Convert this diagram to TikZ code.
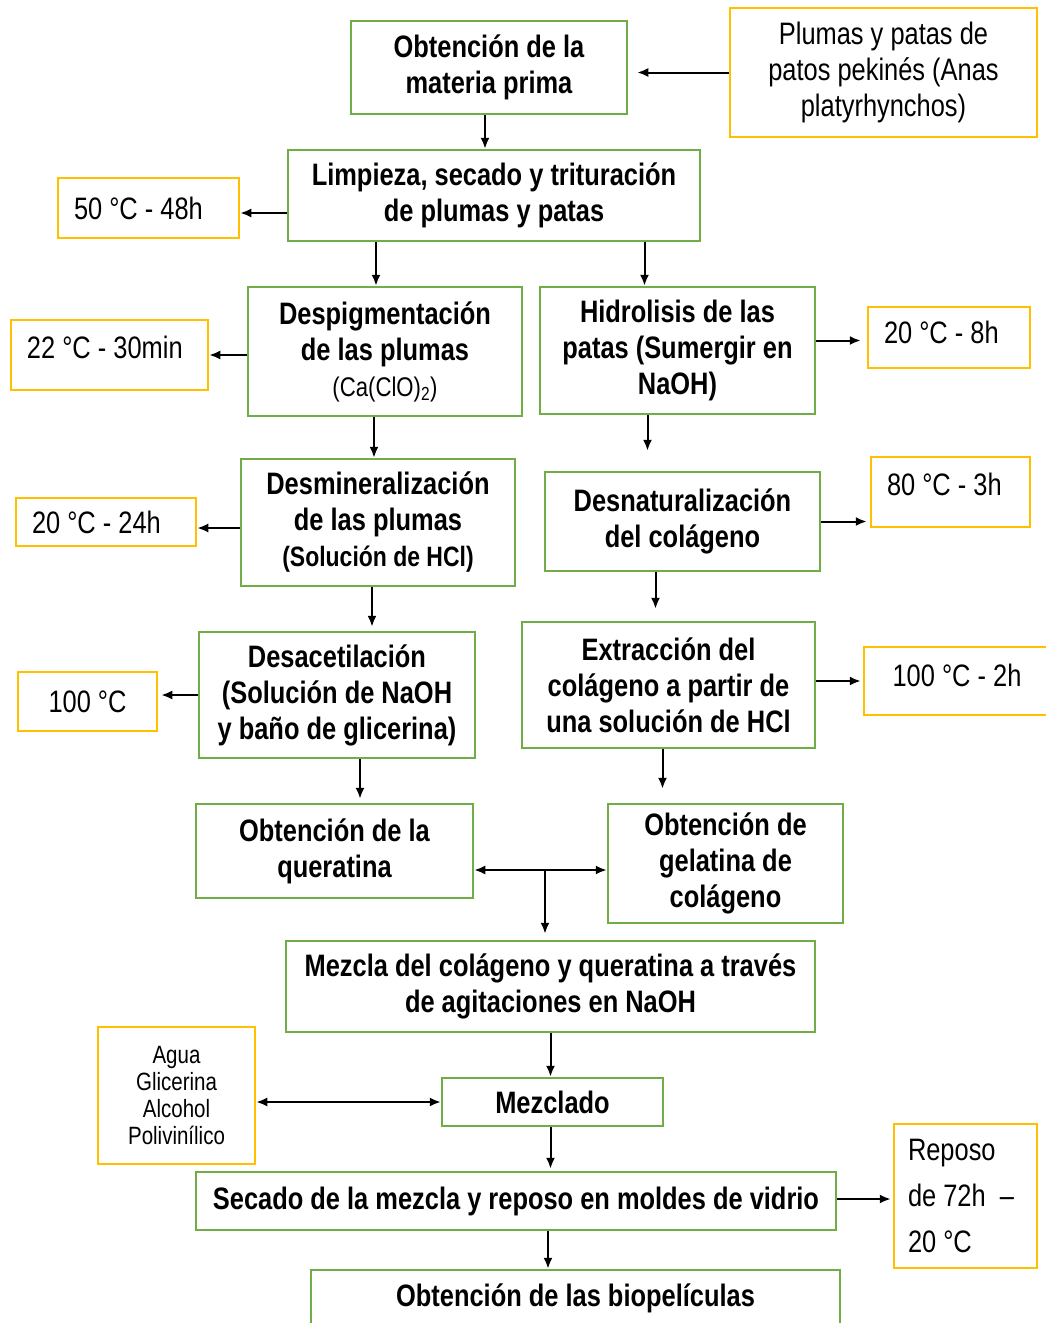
\documentclass[tikz,border=0pt]{standalone}
\usepackage{fontspec}
\setmainfont{Liberation Sans}[FakeStretch=0.82]
\usetikzlibrary{arrows.meta}
\definecolor{boxgreen}{HTML}{70AD47}
\definecolor{boxorange}{HTML}{FFC000}

\begin{document}
\begin{tikzpicture}[x=1pt,y=-1pt,
  paso/.style={draw=boxgreen, line width=2.5pt, align=center, inner sep=0pt,
    font=\fontsize{31}{36}\selectfont\bfseries},
  dato/.style={draw=boxorange, line width=2.5pt, align=left, inner xsep=16pt, inner ysep=0pt,
    font=\fontsize{31}{36}\selectfont, execute at begin node={\spaceskip=0pt\xspaceskip=0pt\relax}},
  lift/.style={text height=22pt, text depth=#1},
  flecha/.style={line width=2pt, -{Latex[length=11pt,width=9pt]}},
  doble/.style={line width=2pt, {Latex[length=11pt,width=9pt]}-{Latex[length=11pt,width=9pt]}}]

\useasboundingbox (0,0) rectangle (1046,1323);

% pasos del proceso
\node[paso, minimum width=276pt, minimum height=93pt] (matprima) at (489,67.5) {Obtención de la\\materia prima};
\node[paso, minimum width=412pt, minimum height=91pt] (limpieza) at (494,195.5) {Limpieza, secado y trituración\\de plumas y patas};
\node[paso, minimum width=274pt, minimum height=129pt] (despig) at (385,351.5) {Despigmentación\\de las plumas\\{\fontsize{27}{36}\selectfont\mdseries (Ca(ClO)\textsubscript{2})}};
\node[paso, minimum width=275pt, minimum height=127pt] (hidro) at (677.5,350.5) {Hidrolisis de las\\patas (Sumergir en\\NaOH)};
\node[paso, minimum width=274pt, minimum height=127pt] (desmin) at (378,522.5) {Desmineralización\\de las plumas\\{\fontsize{28}{36}\selectfont (Solución de HCl)}};
\node[paso, minimum width=275pt, minimum height=99pt] (desnat) at (682.5,521.5) {Desnaturalización\\del colágeno};
\node[paso, minimum width=276pt, minimum height=126pt] (desacet) at (337,695) {Desacetilación\\(Solución de NaOH\\y baño de glicerina)};
\node[paso, minimum width=293pt, minimum height=126pt] (extrac) at (668.5,685) {Extracción del\\colágeno a partir de\\una solución de HCl};
\node[paso, minimum width=277pt, minimum height=94pt] (querat) at (334.5,851) {Obtención de la\\queratina};
\node[paso, minimum width=235pt, minimum height=119pt] (gelat) at (725.5,863.5) {Obtención de\\gelatina de\\colágeno};
\node[paso, minimum width=529pt, minimum height=91pt] (mezcla) at (550.5,986.5) {Mezcla del colágeno y queratina a través\\de agitaciones en NaOH};
\node[paso, minimum width=221pt, minimum height=48pt] (mezclado) at (552.5,1102) {Mezclado};
\node[paso, minimum width=640pt, minimum height=58pt] (secado) at (516,1201) {Secado de la mezcla y reposo en moldes de vidrio};
\node[paso, minimum width=529pt, minimum height=56pt] (biopel) at (575.5,1298) {Obtención de las biopelículas};

% condiciones
\node[dato, align=center, minimum width=307pt, minimum height=129pt, inner xsep=0pt] (plumas) at (883.5,72.5) {Plumas y patas de\\patos pekinés (Anas\\platyrhynchos)};
\node[dato, text width=149pt, minimum height=60pt] (t50) at (148.5,208) {\mbox{50 °C - 48h}};
\node[dato, text width=165pt, minimum height=70pt, lift=16pt] (t22) at (109.5,355) {\mbox{22 °C - 30min}};
\node[dato, text width=130pt, minimum height=61pt, lift=10pt] (t20a) at (949,337.5) {\mbox{20 °C - 8h}};
\node[dato, text width=148pt, minimum height=48pt] (t20b) at (106,522) {\mbox{20 °C - 24h}};
\node[dato, text width=127pt, minimum height=70pt, lift=16pt] (t80) at (950.5,492) {\mbox{80 °C - 3h}};
\node[dato, align=center, inner xsep=0pt, minimum width=139pt, minimum height=59pt] (t100) at (87.5,701.5) {100 °C};
\node[dato, align=center, inner xsep=0pt, minimum width=186pt, minimum height=68pt, lift=12pt] (t100b) at (957,681) {100 °C - 2h};
\node[dato, align=center, inner xsep=0pt, minimum width=157pt, minimum height=137pt,
  font=\fontsize{25}{27}\selectfont] (agua) at (176.5,1095.5) {Agua\\Glicerina\\Alcohol\\Polivinílico};
\node[dato, inner xsep=14pt, text width=115pt, minimum height=144pt,
  font=\fontsize{31}{46}\selectfont] (reposo) at (965.5,1196) {Reposo\\\mbox{de 72h \ –}\\20 °C};

% flechas
\draw[flecha, shorten >=9pt] (plumas.west) -- (plumas.west -| matprima.east);
\draw[flecha] ([xshift=-4pt]matprima.south) -- ([xshift=-4pt]matprima.south |- limpieza.north);
\draw[flecha] ([yshift=-5pt]limpieza.west |- t50.east) -- ([yshift=-5pt]t50.east);
\draw[flecha] ([xshift=-9pt]despig.north |- limpieza.south) -- ([xshift=-9pt]despig.north);
\draw[flecha] ([xshift=-33pt]hidro.north |- limpieza.south) -- ([xshift=-33pt]hidro.north);
\draw[flecha] (despig.west |- t22.east) -- (t22.east);
\draw[flecha, shorten >=6pt] ([yshift=-3pt]hidro.east |- t20a.west) -- ([yshift=-3pt]t20a.west);
\draw[flecha] ([xshift=-4pt]desmin.north |- despig.south) -- ([xshift=-4pt]desmin.north);
\draw[flecha, shorten >=20pt] ([xshift=-30pt]hidro.south) -- ([xshift=-30pt]hidro.south |- desnat.north);
\draw[flecha] ([yshift=-6pt]desmin.west |- t20b.east) -- ([yshift=-6pt]t20b.east);
\draw[flecha, shorten >=3pt] (desnat.east) -- (desnat.east -| t80.west);
\draw[flecha, shorten >=4pt] ([xshift=-6pt]desmin.south) -- ([xshift=-6pt]desmin.south |- desacet.north);
\draw[flecha, shorten >=12pt] ([xshift=-27pt]desnat.south) -- ([xshift=-27pt]desnat.south |- extrac.north);
\draw[flecha, shorten >=3pt] (desacet.west) -- (desacet.west -| t100.east);
\draw[flecha, shorten >=2pt] (extrac.east |- t100b.west) -- (t100b.west);
\draw[flecha, shorten >=4pt] ([xshift=23pt]desacet.south) -- ([xshift=23pt]desacet.south |- querat.north);
\draw[flecha, shorten >=14pt] ([xshift=-6pt]extrac.south) -- ([xshift=-6pt]extrac.south |- gelat.north);
\coordinate (union) at (545,870);
\draw[doble] (querat.east |- union) -- (gelat.west |- union);
\draw[flecha, shorten >=6pt] (union) -- (union |- mezcla.north);
\draw[flecha] ([xshift=-2pt]mezclado.north |- mezcla.south) -- ([xshift=-2pt]mezclado.north);
\draw[doble] (agua.east |- mezclado.west) -- (mezclado.west);
\draw[flecha, shorten >=2pt] ([xshift=-2pt]mezclado.south) -- ([xshift=-2pt]mezclado.south |- secado.north);
\draw[flecha, shorten >=2pt] ([yshift=2pt]secado.east) -- ([yshift=2pt]secado.east -| reposo.west);
\draw[flecha] ([xshift=32pt]secado.south) -- ([xshift=32pt]secado.south |- biopel.north);

\end{tikzpicture}
\end{document}
